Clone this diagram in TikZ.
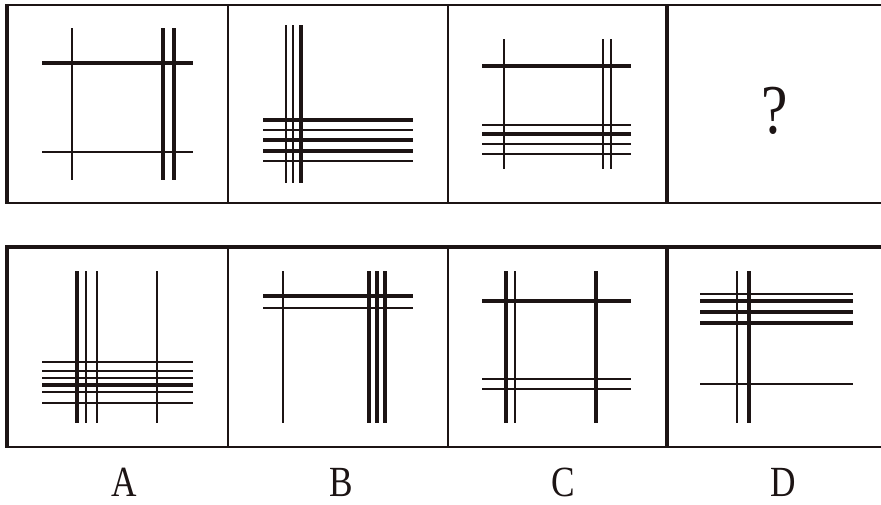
\documentclass[tikz,border=0pt]{standalone}
\usepackage{fontspec}
\setmainfont{Liberation Serif}
\definecolor{ink}{RGB}{28,20,20}
\tikzset{
	heavy/.style={ink, line width=4.6pt},
	light/.style={ink, line width=2.4pt},
	frame/.style={ink, line width=2.4pt},
	letter/.style={font=\fontsize{43}{44}\selectfont, text=ink, xscale=0.82, inner sep=0pt}
}
\begin{document}
\begin{tikzpicture}[x=1pt, y=-1pt]
	\useasboundingbox (0,0) rectangle (881,504);
	\fill[white] (0,0) rectangle (881,504);

	\draw[frame] (7,5) -- (881,5);
	\draw[frame] (7,203) -- (881,203);
	\draw[heavy] (7,4) -- (7,204);
	\draw[frame] (228,5) -- (228,203);
	\draw[frame] (448,5) -- (448,203);
	\draw[frame, line width=3.8pt] (667,5) -- (667,203);

	\draw[heavy] (5,247) -- (881,247);
	\draw[frame] (7,447) -- (881,447);
	\draw[heavy] (7,247) -- (7,448);
	\draw[frame] (228,247) -- (228,447);
	\draw[frame] (448,247) -- (448,447);
	\draw[frame, line width=3.8pt] (667,247) -- (667,447);

	\draw[light] (72,28) -- (72,180);
	\draw[heavy] (163,28) -- (163,180);
	\draw[heavy] (174,28) -- (174,180);
	\draw[heavy] (42,63) -- (193,63);
	\draw[light] (42,152) -- (193,152);

	\draw[light] (286,25) -- (286,183);
	\draw[light] (293,25) -- (293,183);
	\draw[heavy] (301,25) -- (301,183);
	\draw[heavy] (263,120) -- (413,120);
	\draw[light] (263,130) -- (413,130);
	\draw[heavy] (263,140) -- (413,140);
	\draw[heavy] (263,151) -- (413,151);
	\draw[light] (263,161) -- (413,161);

	\draw[light, line width=2.8pt] (504,39) -- (504,169);
	\draw[light] (603,39) -- (603,169);
	\draw[light] (611,39) -- (611,169);
	\draw[heavy] (482,66) -- (631,66);
	\draw[light] (482,125) -- (631,125);
	\draw[heavy] (482,134) -- (631,134);
	\draw[light] (482,144) -- (631,144);
	\draw[light] (482,154) -- (631,154);

	\node (question) [font=\fontsize{70}{72}\selectfont, text=ink, xscale=0.85, inner sep=0pt] at (775,111) {?};

	\draw[heavy] (77,271) -- (77,423);
	\draw[light] (86,271) -- (86,423);
	\draw[light] (97,271) -- (97,423);
	\draw[light] (157,271) -- (157,423);
	\draw[light] (42,362) -- (193,362);
	\draw[light] (42,371) -- (193,371);
	\draw[light] (42,378) -- (193,378);
	\draw[heavy] (42,385) -- (193,385);
	\draw[light] (42,392) -- (193,392);
	\draw[light] (42,403) -- (193,403);

	\draw[light] (283,271) -- (283,423);
	\draw[heavy] (369,271) -- (369,423);
	\draw[heavy] (377,271) -- (377,423);
	\draw[heavy] (385,271) -- (385,423);
	\draw[heavy] (263,296) -- (413,296);
	\draw[light] (263,308) -- (413,308);

	\draw[heavy] (506,271) -- (506,423);
	\draw[light] (515,271) -- (515,423);
	\draw[heavy] (596,271) -- (596,423);
	\draw[heavy] (482,301) -- (631,301);
	\draw[light] (482,379) -- (631,379);
	\draw[light] (482,389) -- (631,389);

	\draw[light] (737,271) -- (737,423);
	\draw[heavy] (749,271) -- (749,423);
	\draw[light] (700,294) -- (853,294);
	\draw[heavy] (700,301) -- (853,301);
	\draw[heavy] (700,312) -- (853,312);
	\draw[heavy] (700,323) -- (853,323);
	\draw[light] (700,384) -- (853,384);

	\node (optA) [letter] at (124,482) {A};
	\node (optB) [letter] at (341,482) {B};
	\node (optC) [letter] at (563,482) {C};
	\node (optD) [letter] at (783,482) {D};
\end{tikzpicture}
\end{document}
